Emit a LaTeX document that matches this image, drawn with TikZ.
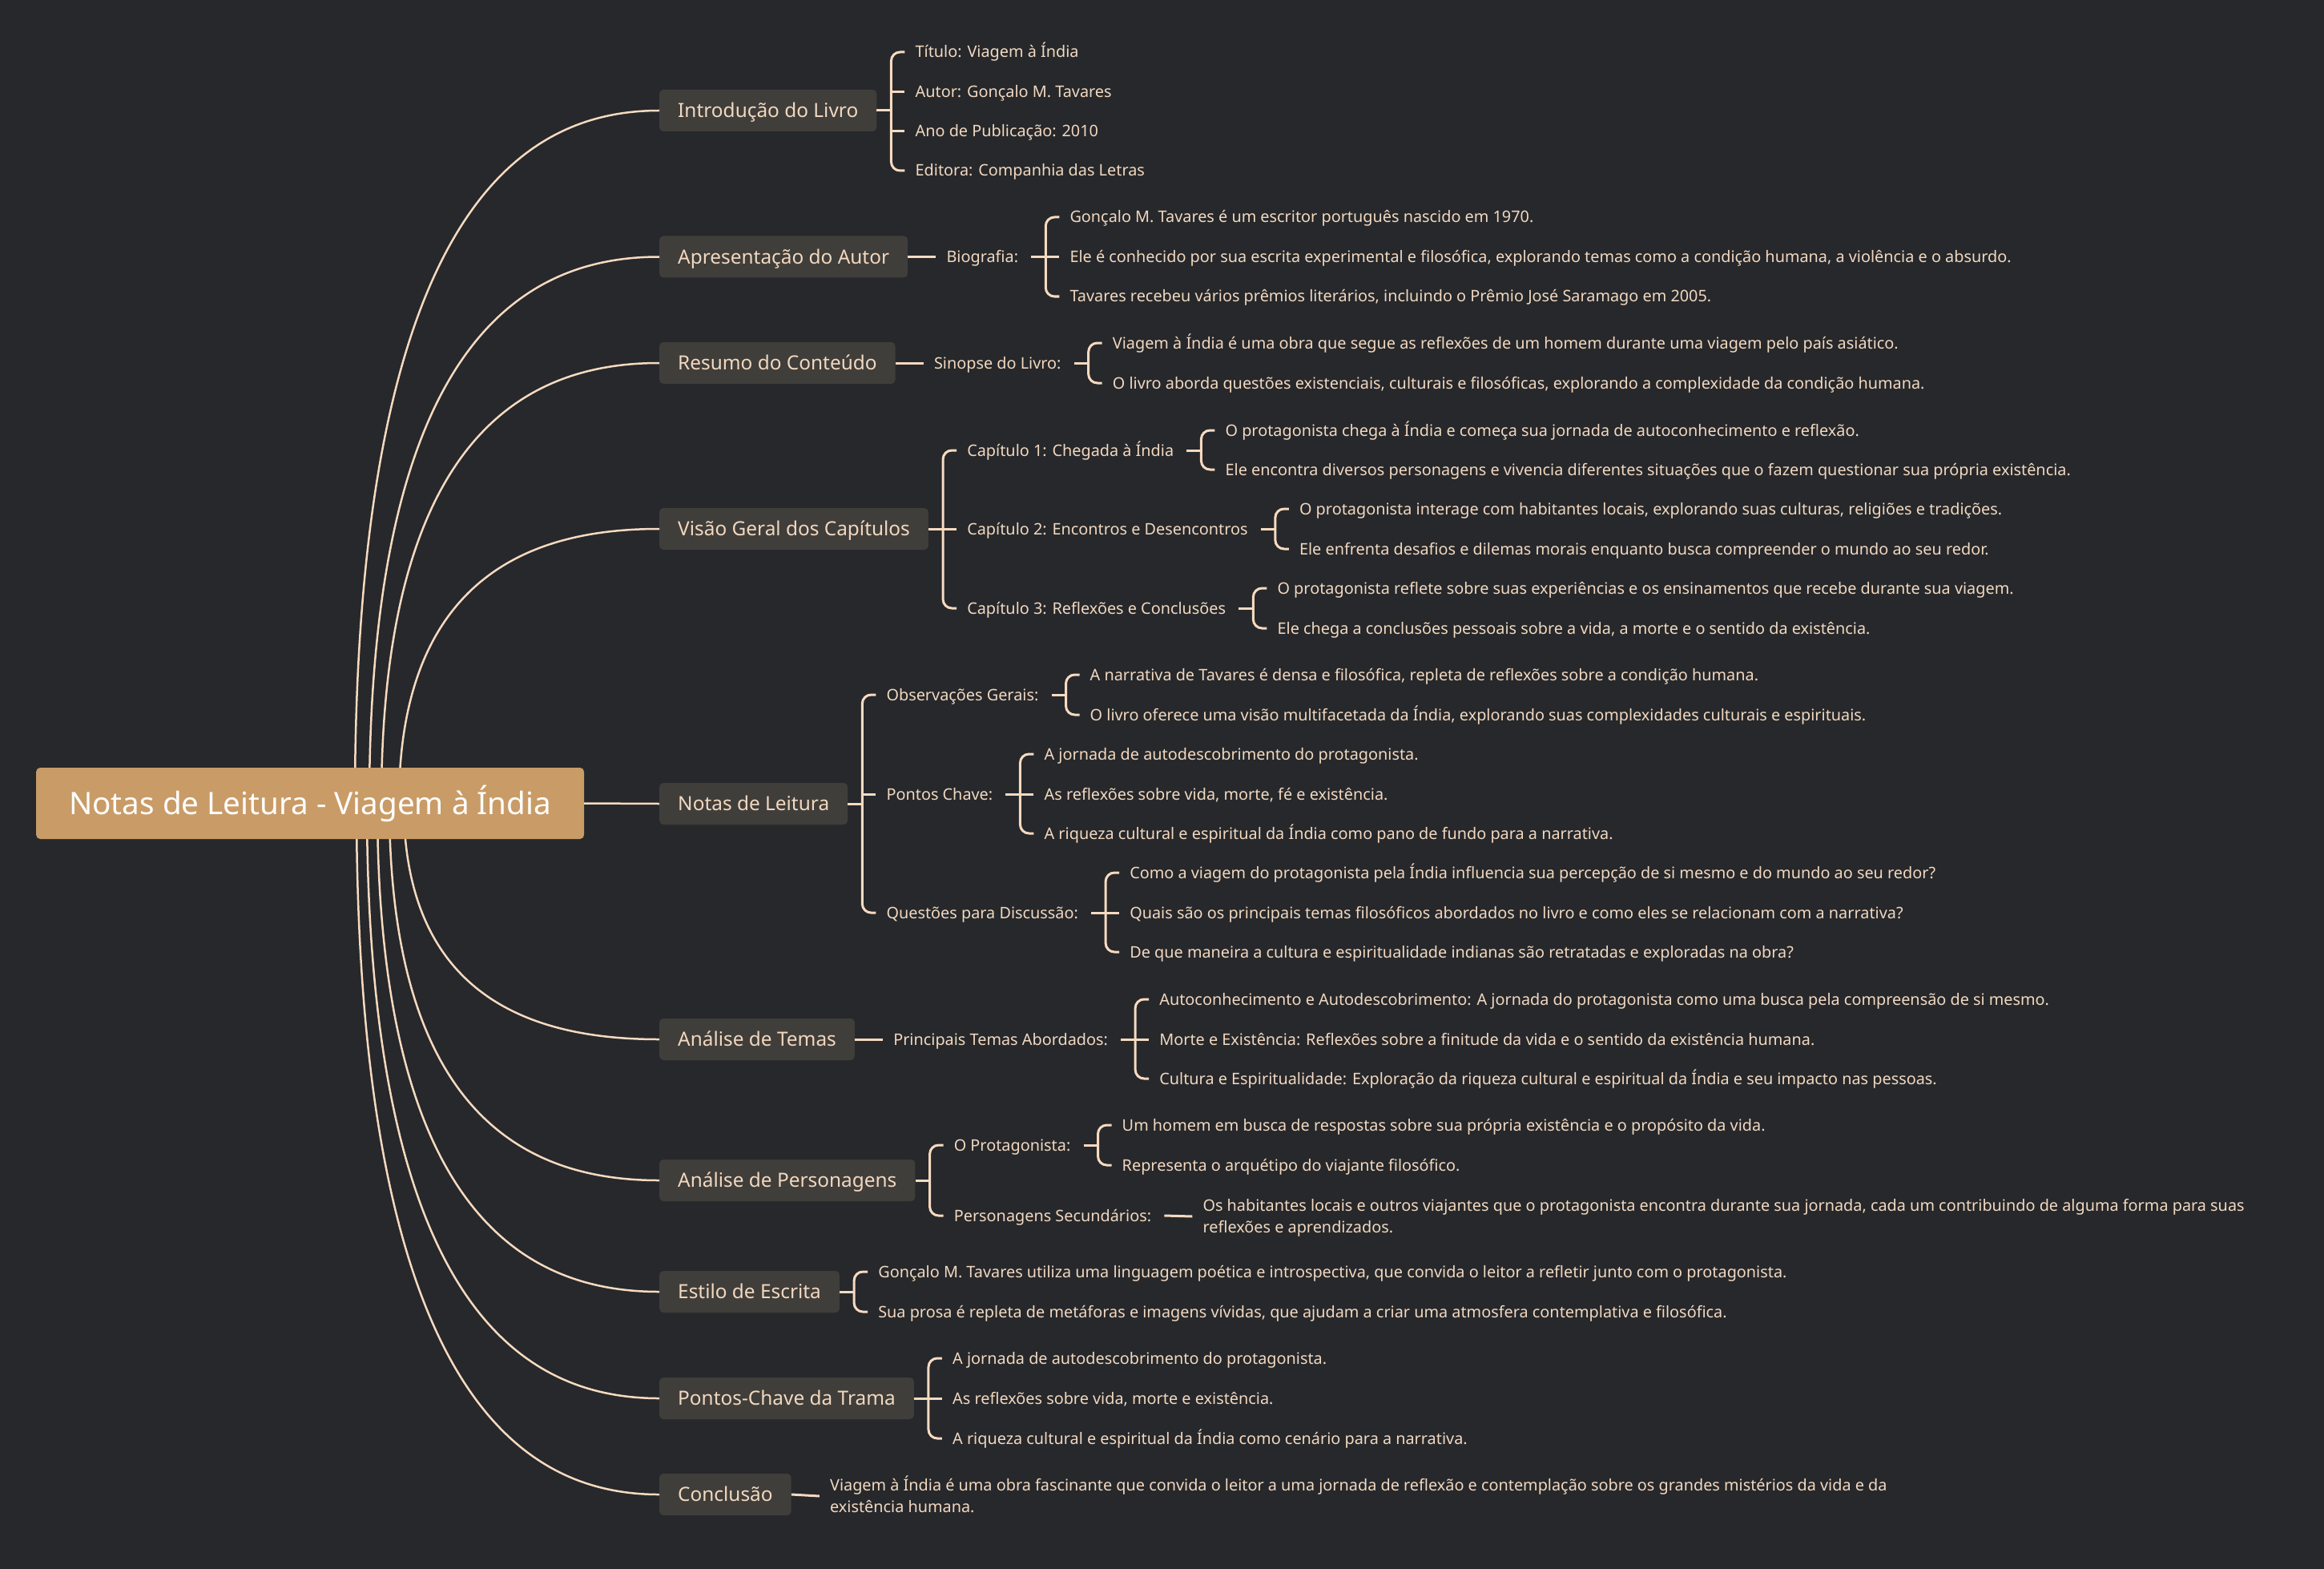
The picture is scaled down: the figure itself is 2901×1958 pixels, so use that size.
\documentclass[tikz,border=0pt]{standalone}
\usepackage{fontspec}
\setmainfont{Noto Sans}
\usetikzlibrary{calc}
\definecolor{bgc}{HTML}{26282B}
\definecolor{rootc}{HTML}{C99B67}
\definecolor{topicc}{HTML}{403E3A}
\definecolor{linec}{HTML}{F7DAC0}
\definecolor{txt}{HTML}{F2D8C0}
\tikzset{
  rootbox/.style={fill=rootc, rounded corners=5pt, text=white, font=\fontsize{38.6}{46}\selectfont,
    inner xsep=41pt, inner ysep=0pt, minimum height=89pt, text height=27.3pt, text depth=0pt, anchor=west},
  topic/.style={fill=topicc, rounded corners=5pt, text=txt, font=\fontsize{24.4}{29}\selectfont,
    inner xsep=23pt, inner ysep=0pt, minimum height=52pt, text height=17.4pt, text depth=0pt, anchor=west},
  leaf/.style={text=txt, font=\fontsize{19.85}{27}\selectfont, inner sep=0pt,
    text height=14pt, text depth=0pt, anchor=west},
  leaftwo/.style={text=txt, font=\fontsize{19.85}{27}\selectfont, inner sep=0pt, anchor=west},
  conn/.style={draw=linec, line width=3pt},
  curve/.style={draw=linec, line width=2.5pt},
}
\newcommand\twolines[2]{\vbox{\offinterlineskip\hbox{\rule{0pt}{14pt}\smash{#1}}\kern13pt\hbox{\rule{0pt}{14pt}\smash{#2}}}}
% effective edge of a parent: #1 name, #2 node, #3 offset
\newcommand\mkedge[3]{%
  \coordinate (#1) at ([xshift=#3]#2.east);
  \coordinate (#1b) at ([xshift=#3+18pt]#2.east);
  \coordinate (#1c) at ([xshift=#3+48pt]#2.east);}
% bracket: #1 edge name, #2 first child, #3 last child
\newcommand\brk[3]{%
  \draw[conn] (#1) -- (#1b);
  \draw[conn,rounded corners=11pt] ([xshift=-13pt]#2.west) -- (#1b |- #2.west) -- (#1b |- #3.west) -- ([xshift=-13pt]#3.west);}
\newcommand\tck[2]{\draw[conn] (#1b |- #2.west) -- ([xshift=-13pt]#2.west);}
\newcommand\sline[2]{\draw[conn] (#1) -- ([xshift=-13pt]#2.west);}
\newcommand\branch[2]{%
  \draw[curve] (#1) .. controls ($(#1 |- #2.west)!0.13!(#1)$) and ($(#2.west)!0.43!(#1 |- #2.west)$) .. (#2.west);}
\begin{document}
\begin{tikzpicture}[x=1pt,y=-1pt]
\fill[bgc] (0,0) rectangle (2901,1958);
\useasboundingbox (0,0) rectangle (2901,1958);

% main topics
\node[topic] (t1) at (823,138) {Introdução do Livro};
\node[topic] (t2) at (823,320.5) {Apresentação do Autor};
\node[topic] (t3) at (823,453) {Resumo do Conteúdo};
\node[topic] (t4) at (823,660) {Visão Geral dos Capítulos};
\node[topic] (t5) at (823,1003) {Notas de Leitura};
\node[topic] (t6) at (823,1297) {Análise de Temas};
\node[topic] (t7) at (823,1473) {Análise de Personagens};
\node[topic] (t8) at (823,1612) {Estilo de Escrita};
\node[topic] (t9) at (823,1745) {Pontos-Chave da Trama};
\node[topic] (t10) at (823,1865) {Conclusão};

% curve start points (hidden behind the root)
\coordinate (s1) at (443,1002.5);
\coordinate (s2) at (461,1002.5);
\coordinate (s3) at (476,1002.5);
\coordinate (s4) at (498,1002.5);
\coordinate (s6) at (504,1002.5);
\coordinate (s7) at (486,1002.5);
\coordinate (s8) at (471,1002.5);
\coordinate (s9) at (458,1002.5);
\coordinate (s10) at (445,1002.5);
\branch{s1}{t1}
\branch{s2}{t2}
\branch{s3}{t3}
\branch{s4}{t4}
\branch{s6}{t6}
\branch{s7}{t7}
\branch{s8}{t8}
\branch{s9}{t9}
\branch{s10}{t10}

\node[rootbox] (root) at (45,1002.5) {Notas de Leitura - Viagem à Índia};
\draw[conn, line width=2.5pt] (root.east) -- (t5.west);

% 1 Introducao
\mkedge{e1}{t1}{0pt}
\node[leaf] (a1) at (e1c |- 0,65) {Título: Viagem à Índia};
\node[leaf] (a2) at (e1c |- 0,115) {Autor: Gonçalo M. Tavares};
\node[leaf] (a3) at (e1c |- 0,164) {Ano de Publicação: 2010};
\node[leaf] (a4) at (e1c |- 0,213) {Editora: Companhia das Letras};
\brk{e1}{a1}{a4}
\tck{e1}{a2}
\tck{e1}{a3}

% 2 Apresentacao
\mkedge{e2}{t2}{0pt}
\node[leaf] (bio) at (e2c |- 0,320.5) {Biografia:};
\sline{e2}{bio}
\mkedge{e2x}{bio}{16pt}
\node[leaf] (b1) at (e2xc |- 0,271) {Gonçalo M. Tavares é um escritor português nascido em 1970.};
\node[leaf] (b2) at (e2xc |- 0,320.5) {Ele é conhecido por sua escrita experimental e filosófica, explorando temas como a condição humana, a violência e o absurdo.};
\node[leaf] (b3) at (e2xc |- 0,370) {Tavares recebeu vários prêmios literários, incluindo o Prêmio José Saramago em 2005.};
\brk{e2x}{b1}{b3}
\tck{e2x}{b2}

% 3 Resumo
\mkedge{e3}{t3}{0pt}
\node[leaf] (sin) at (e3c |- 0,453) {Sinopse do Livro:};
\sline{e3}{sin}
\mkedge{e3x}{sin}{16pt}
\node[leaf] (c1) at (e3xc |- 0,428) {Viagem à Índia é uma obra que segue as reflexões de um homem durante uma viagem pelo país asiático.};
\node[leaf] (c2) at (e3xc |- 0,478) {O livro aborda questões existenciais, culturais e filosóficas, explorando a complexidade da condição humana.};
\brk{e3x}{c1}{c2}

% 4 Visao Geral
\mkedge{e4}{t4}{0pt}
\node[leaf] (cap1) at (e4c |- 0,562) {Capítulo 1: Chegada à Índia};
\node[leaf] (cap2) at (e4c |- 0,660) {Capítulo 2: Encontros e Desencontros};
\node[leaf] (cap3) at (e4c |- 0,759) {Capítulo 3: Reflexões e Conclusões};
\brk{e4}{cap1}{cap3}
\tck{e4}{cap2}
\mkedge{e41}{cap1}{16pt}
\node[leaf] (d1) at (e41c |- 0,537) {O protagonista chega à Índia e começa sua jornada de autoconhecimento e reflexão.};
\node[leaf] (d2) at (e41c |- 0,586) {Ele encontra diversos personagens e vivencia diferentes situações que o fazem questionar sua própria existência.};
\brk{e41}{d1}{d2}
\mkedge{e42}{cap2}{16pt}
\node[leaf] (d3) at (e42c |- 0,635) {O protagonista interage com habitantes locais, explorando suas culturas, religiões e tradições.};
\node[leaf] (d4) at (e42c |- 0,685) {Ele enfrenta desafios e dilemas morais enquanto busca compreender o mundo ao seu redor.};
\brk{e42}{d3}{d4}
\mkedge{e43}{cap3}{16pt}
\node[leaf] (d5) at (e43c |- 0,734) {O protagonista reflete sobre suas experiências e os ensinamentos que recebe durante sua viagem.};
\node[leaf] (d6) at (e43c |- 0,784) {Ele chega a conclusões pessoais sobre a vida, a morte e o sentido da existência.};
\brk{e43}{d5}{d6}

% 5 Notas de Leitura
\mkedge{e5}{t5}{0pt}
\node[leaf] (obs) at (e5c |- 0,867) {Observações Gerais:};
\node[leaf] (pch) at (e5c |- 0,991) {Pontos Chave:};
\node[leaf] (que) at (e5c |- 0,1139) {Questões para Discussão:};
\brk{e5}{obs}{que}
\tck{e5}{pch}
\mkedge{e51}{obs}{16pt}
\node[leaf] (f1) at (e51c |- 0,842) {A narrativa de Tavares é densa e filosófica, repleta de reflexões sobre a condição humana.};
\node[leaf] (f2) at (e51c |- 0,892) {O livro oferece uma visão multifacetada da Índia, explorando suas complexidades culturais e espirituais.};
\brk{e51}{f1}{f2}
\mkedge{e52}{pch}{16pt}
\node[leaf] (g1) at (e52c |- 0,941) {A jornada de autodescobrimento do protagonista.};
\node[leaf] (g2) at (e52c |- 0,991) {As reflexões sobre vida, morte, fé e existência.};
\node[leaf] (g3) at (e52c |- 0,1040) {A riqueza cultural e espiritual da Índia como pano de fundo para a narrativa.};
\brk{e52}{g1}{g3}
\tck{e52}{g2}
\mkedge{e53}{que}{16pt}
\node[leaf] (h1) at (e53c |- 0,1089) {Como a viagem do protagonista pela Índia influencia sua percepção de si mesmo e do mundo ao seu redor?};
\node[leaf] (h2) at (e53c |- 0,1139) {Quais são os principais temas filosóficos abordados no livro e como eles se relacionam com a narrativa?};
\node[leaf] (h3) at (e53c |- 0,1188) {De que maneira a cultura e espiritualidade indianas são retratadas e exploradas na obra?};
\brk{e53}{h1}{h3}
\tck{e53}{h2}

% 6 Analise de Temas
\mkedge{e6}{t6}{0pt}
\node[leaf] (pta) at (e6c |- 0,1297) {Principais Temas Abordados:};
\sline{e6}{pta}
\mkedge{e6x}{pta}{16pt}
\node[leaf] (i1) at (e6xc |- 0,1247) {Autoconhecimento e Autodescobrimento: A jornada do protagonista como uma busca pela compreensão de si mesmo.};
\node[leaf] (i2) at (e6xc |- 0,1297) {Morte e Existência: Reflexões sobre a finitude da vida e o sentido da existência humana.};
\node[leaf] (i3) at (e6xc |- 0,1346) {Cultura e Espiritualidade: Exploração da riqueza cultural e espiritual da Índia e seu impacto nas pessoas.};
\brk{e6x}{i1}{i3}
\tck{e6x}{i2}

% 7 Analise de Personagens
\mkedge{e7}{t7}{0pt}
\node[leaf] (op) at (e7c |- 0,1429) {O Protagonista:};
\node[leaf] (ps) at (e7c |- 0,1517) {Personagens Secundários:};
\brk{e7}{op}{ps}
\mkedge{e71}{op}{16pt}
\node[leaf] (j1) at (e71c |- 0,1404) {Um homem em busca de respostas sobre sua própria existência e o propósito da vida.};
\node[leaf] (j2) at (e71c |- 0,1454) {Representa o arquétipo do viajante filosófico.};
\brk{e71}{j1}{j2}
\mkedge{e72}{ps}{16pt}
\node[leaftwo] (j3) at (e72c |- 0,1518) {\twolines{Os habitantes locais e outros viajantes que o protagonista encontra durante sua jornada, cada um contribuindo de alguma forma para suas}{reflexões e aprendizados.}};
\sline{e72}{j3}

% 8 Estilo de Escrita
\mkedge{e8}{t8}{0pt}
\node[leaf] (k1) at (e8c |- 0,1587) {Gonçalo M. Tavares utiliza uma linguagem poética e introspectiva, que convida o leitor a refletir junto com o protagonista.};
\node[leaf] (k2) at (e8c |- 0,1637) {Sua prosa é repleta de metáforas e imagens vívidas, que ajudam a criar uma atmosfera contemplativa e filosófica.};
\brk{e8}{k1}{k2}

% 9 Pontos-Chave da Trama
\mkedge{e9}{t9}{0pt}
\node[leaf] (l1) at (e9c |- 0,1695) {A jornada de autodescobrimento do protagonista.};
\node[leaf] (l2) at (e9c |- 0,1745) {As reflexões sobre vida, morte e existência.};
\node[leaf] (l3) at (e9c |- 0,1795) {A riqueza cultural e espiritual da Índia como cenário para a narrativa.};
\brk{e9}{l1}{l3}
\tck{e9}{l2}

% 10 Conclusao
\mkedge{e10}{t10}{0pt}
\node[leaftwo] (m1) at (e10c |- 0,1867) {\twolines{Viagem à Índia é uma obra fascinante que convida o leitor a uma jornada de reflexão e contemplação sobre os grandes mistérios da vida e da}{existência humana.}};
\sline{e10}{m1}
\end{tikzpicture}
\end{document}
